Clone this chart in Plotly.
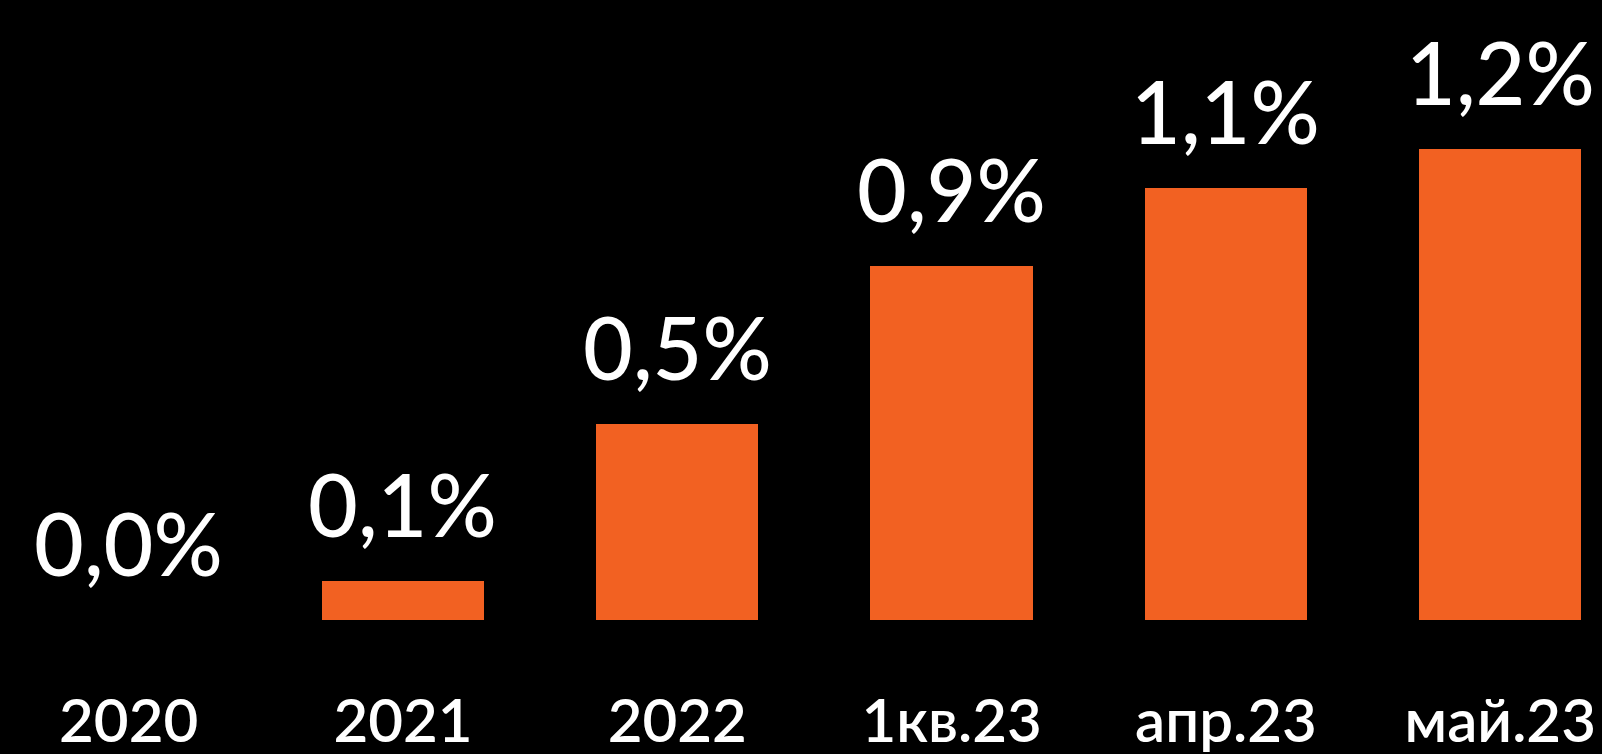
import plotly.graph_objects as go

categories = ["2020", "2021", "2022", "1кв.23", "апр.23", "май.23"]
values = [0.0, 0.1, 0.5, 0.9, 1.1, 1.2]
value_labels = ["0,0%", "0,1%", "0,5%", "0,9%", "1,1%", "1,2%"]

ORANGE = "#F26122"
FONT = "Lato"

fig = go.Figure()
fig.add_trace(go.Bar(
    x=list(range(len(categories))),
    y=values,
    marker=dict(color=ORANGE, line=dict(width=0)),
    width=0.592,
    hoverinfo="skip",
))

for i, (v, t) in enumerate(zip(values, value_labels)):
    fig.add_annotation(
        x=i, y=v, text=t, showarrow=False,
        xanchor="center", yanchor="bottom", yshift=24,
        font=dict(family=FONT, size=86, color="white", weight=500),
    )

fig.update_layout(
    width=1602, height=754,
    paper_bgcolor="black", plot_bgcolor="black",
    margin=dict(l=0, r=0, t=0, b=134),
    showlegend=False,
    bargap=0,
    xaxis=dict(
        range=[-0.469, 5.371],
        tickmode="array",
        tickvals=list(range(len(categories))),
        ticktext=categories,
        ticks="outside", ticklen=49, tickcolor="black",
        tickfont=dict(family=FONT, size=60, color="white", weight=600),
        ticklabeloverflow="allow",
        automargin=False,
        showgrid=False, zeroline=False, showline=False,
    ),
    yaxis=dict(
        range=[0, 1.578],
        visible=False, showgrid=False, zeroline=False, automargin=False,
    ),
)

fig.write_html(
    "out.html",
    config={"displayModeBar": False},
    post_script="document.body.style.margin='0';document.body.style.background='black';",
)
